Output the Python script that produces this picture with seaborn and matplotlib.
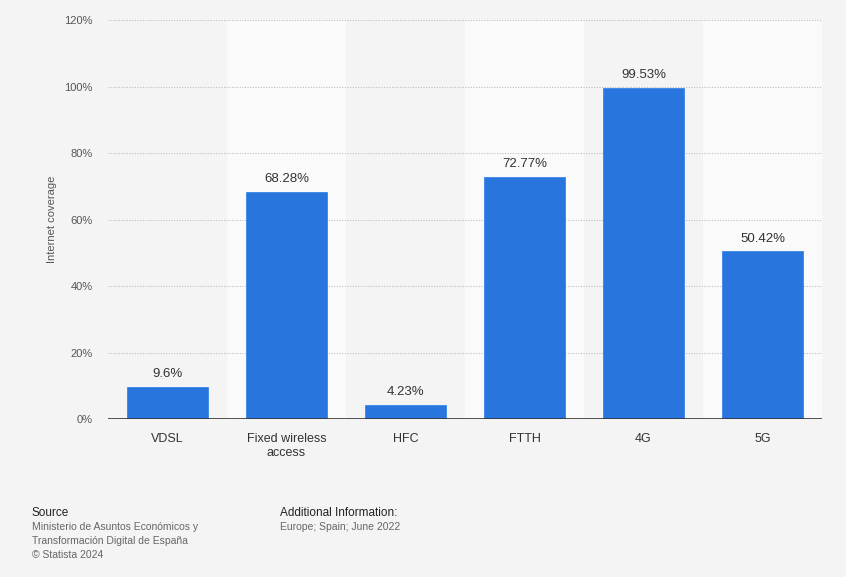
import matplotlib
matplotlib.use("Agg")
import matplotlib.pyplot as plt
import seaborn as sns
import pandas as pd
from matplotlib.ticker import FuncFormatter

categories = ["VDSL", "Fixed wireless\naccess", "HFC", "FTTH", "4G", "5G"]
coverage = [9.6, 68.28, 4.23, 72.77, 99.53, 50.42]
value_labels = ["9.6%", "68.28%", "4.23%", "72.77%", "99.53%", "50.42%"]
y_ticks = [0, 20, 40, 60, 80, 100, 120]

sns.set_theme(style="white")
plt.rcParams["font.family"] = ["Liberation Sans", "DejaVu Sans"]

bg = "#f4f4f4"
band = "#fafafa"
bar_color = "#2876dd"

df = pd.DataFrame({"category": categories, "coverage": coverage})

fig = plt.figure(figsize=(8.46, 5.77), dpi=100, facecolor=bg)
ax = fig.add_axes([0.1277, 0.2738, 0.8439, 0.6915])
ax.set_facecolor(bg)

# alternating column bands
for i in range(len(categories)):
    if i % 2 == 1:
        ax.axvspan(i - 0.5, i + 0.5, color=band, zorder=0, lw=0)

sns.barplot(data=df, x="category", y="coverage", color=bar_color,
            saturation=1, width=0.68, edgecolor="#3a85e6", linewidth=0.6,
            ax=ax, zorder=3)

for i, (v, lab) in enumerate(zip(coverage, value_labels)):
    ax.text(i, v + 2.0, lab, ha="center", va="bottom", fontsize=9.5,
            color="#333333", zorder=4)

ax.set_xlim(-0.5, len(categories) - 0.5)
ax.set_ylim(0, 120)
ax.set_yticks(y_ticks)
ax.yaxis.set_major_formatter(FuncFormatter(lambda v, p: f"{v:.0f}%"))
ax.grid(axis="y", color="#bdbdbd", linestyle=(0, (1.2, 1.5)), linewidth=0.7, zorder=1)
ax.axhline(0, color="#333333", linewidth=1.2, zorder=5)

for s in ax.spines.values():
    s.set_visible(False)

ax.tick_params(axis="y", length=0, labelsize=8, labelcolor="#555555", pad=11)
ax.tick_params(axis="x", length=0, labelsize=9, labelcolor="#333333", pad=10)
ax.set_xlabel("")
ax.set_ylabel("Internet coverage", fontsize=8, color="#555555", labelpad=5)

# footer
fig.text(32 / 846, 1 - 513 / 577, "Source", fontsize=8.5, color="#222222", va="center")
fig.text(32 / 846, 1 - 527 / 577, "Ministerio de Asuntos Económicos y", fontsize=7.5,
         color="#666666", va="center")
fig.text(32 / 846, 1 - 541 / 577, "Transformación Digital de España", fontsize=7.5,
         color="#666666", va="center")
fig.text(32 / 846, 1 - 555 / 577, "© Statista 2024", fontsize=7.5,
         color="#666666", va="center")
fig.text(280 / 846, 1 - 513 / 577, "Additional Information:", fontsize=8.5,
         color="#222222", va="center")
fig.text(280 / 846, 1 - 527 / 577, "Europe; Spain; June 2022", fontsize=7.5,
         color="#666666", va="center")

fig.savefig("out.png", dpi=100, facecolor=bg)
